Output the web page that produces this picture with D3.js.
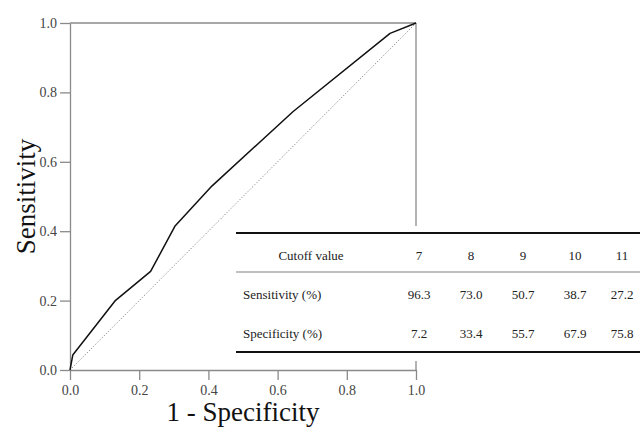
<!DOCTYPE html>
<html>
<head>
<meta charset="utf-8">
<script src="https://cdn.jsdelivr.net/npm/d3@7"></script>
<style>
  html, body { margin: 0; padding: 0; background: #fff; }
  svg { display: block; font-family: "Liberation Serif", "Times New Roman", serif; }
</style>
</head>
<body>
<svg id="chart" width="640" height="428"></svg>
<script>
// ROC curve points (1 - specificity, sensitivity)
const rocFpr = [0, 0.008, 0.13, 0.233, 0.303, 0.41, 0.645, 0.925, 1];
const rocTpr = [0, 0.043, 0.199, 0.284, 0.414, 0.53, 0.745, 0.970, 1];
const axisTicks = [0, 0.2, 0.4, 0.6, 0.8, 1.0];
// table content
const cutoffs = ["7", "8", "9", "10", "11"];
const sensitivity = ["96.3", "73.0", "50.7", "38.7", "27.2"];
const specificity = ["7.2", "33.4", "55.7", "67.9", "75.8"];
const rowLabels = ["Sensitivity (%)", "Specificity (%)"];

const svg = d3.select("#chart");
const axisColor = "#8a8a8a";
const textColor = "#444";

const x = d3.scaleLinear().domain([0, 1]).range([70, 416]);
const y = d3.scaleLinear().domain([0, 1]).range([370, 23]);

// frame top and right
svg.append("line").attr("x1", x(0)).attr("x2", x(1)).attr("y1", y(1)).attr("y2", y(1))
  .attr("stroke", axisColor).attr("stroke-width", 1.3);
svg.append("line").attr("x1", x(1)).attr("x2", x(1)).attr("y1", y(1)).attr("y2", y(0))
  .attr("stroke", axisColor).attr("stroke-width", 1.3);

// axes
const gx = svg.append("g").attr("transform", `translate(0,${y(0)})`)
  .call(d3.axisBottom(x).tickValues(axisTicks).tickFormat(d3.format(".1f")).tickSize(10).tickSizeOuter(0).tickPadding(5));
const gy = svg.append("g").attr("transform", `translate(${x(0)},0)`)
  .call(d3.axisLeft(y).tickValues(axisTicks).tickFormat(d3.format(".1f")).tickSize(10).tickSizeOuter(0).tickPadding(3));
[gx, gy].forEach(g => {
  g.select(".domain").attr("stroke", axisColor).attr("stroke-width", 1.3);
  g.selectAll(".tick line").attr("stroke", axisColor).attr("stroke-width", 1.3);
  g.selectAll(".tick text").attr("fill", textColor)
    .style("font-family", '"Liberation Serif", serif').style("font-size", "14px");
});

// diagonal reference
svg.append("line").attr("x1", x(0)).attr("y1", y(0)).attr("x2", x(1)).attr("y2", y(1))
  .attr("stroke", "#777").attr("stroke-width", 0.9).attr("stroke-dasharray", "1.2,1.8");

// ROC curve
const pts = rocFpr.map((f, i) => [f, rocTpr[i]]);
svg.append("path").datum(pts)
  .attr("d", d3.line().x(d => x(d[0])).y(d => y(d[1])))
  .attr("fill", "none").attr("stroke", "#111").attr("stroke-width", 1.5)
  .attr("stroke-linejoin", "round");

// axis titles
svg.append("text").attr("x", (x(0) + x(1)) / 2).attr("y", 421)
  .attr("text-anchor", "middle").attr("fill", "#111").style("font-size", "27px")
  .text("1 - Specificity");
svg.append("text").attr("transform", `translate(35,${(y(0) + y(1)) / 2}) rotate(-90)`)
  .attr("text-anchor", "middle").attr("fill", "#111").style("font-size", "27px")
  .text("Sensitivity");

// table
const tbl = svg.append("g");
tbl.append("rect").attr("x", 236).attr("y", 226).attr("width", 404).attr("height", 135).attr("fill", "#fff");
tbl.append("line").attr("x1", 236).attr("x2", 640).attr("y1", 233).attr("y2", 233).attr("stroke", "#111").attr("stroke-width", 2.2);
tbl.append("line").attr("x1", 236).attr("x2", 640).attr("y1", 272).attr("y2", 272).attr("stroke", "#aaa").attr("stroke-width", 1.5);
tbl.append("line").attr("x1", 236).attr("x2", 640).attr("y1", 352).attr("y2", 352).attr("stroke", "#111").attr("stroke-width", 2.2);

const col = d3.scaleOrdinal().domain(cutoffs).range([419, 471, 523, 575, 622]);
const rowY = [255, 294, 333];
const fs = "13px";

tbl.append("text").attr("x", 311).attr("y", rowY[0]).attr("dy", "0.35em")
  .attr("text-anchor", "middle").attr("fill", "#222").style("font-size", fs).text("Cutoff value");
rowLabels.forEach((lab, i) => {
  tbl.append("text").attr("x", 243).attr("y", rowY[i + 1]).attr("dy", "0.35em")
    .attr("fill", "#222").style("font-size", fs).text(lab);
});
[cutoffs, sensitivity, specificity].forEach((row, r) => {
  tbl.selectAll(null).data(row).enter().append("text")
    .attr("x", (d, i) => col(cutoffs[i])).attr("y", rowY[r]).attr("dy", "0.35em")
    .attr("text-anchor", "middle").attr("fill", "#222").style("font-size", fs)
    .text(d => d);
});
</script>
</body>
</html>
